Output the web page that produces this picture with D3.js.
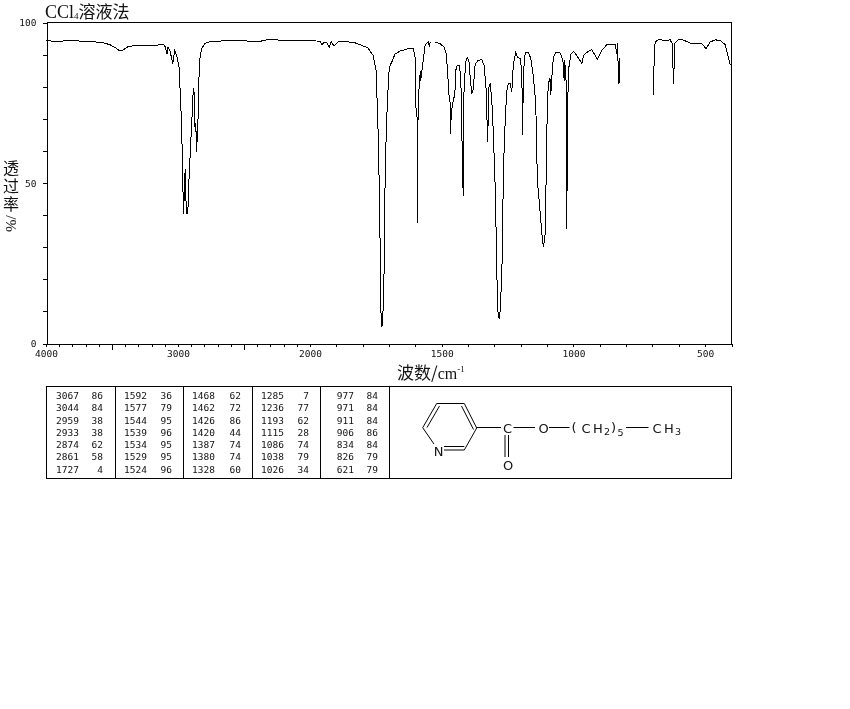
<!DOCTYPE html>
<html>
<head>
<meta charset="utf-8">
<script src="https://d3js.org/d3.v7.min.js"></script>
<style>
  body { margin: 0; background: #fff; }
  svg { display: block; }
  text { fill: #111; }
</style>
</head>
<body>
<div id="main"></div>
<script>
const ctx = {
    w: 850,
    h: 709,
    left: 46.5,
    right: 731.5,
    top: 22.5,
    bottom: 343.5
};

// spectrum. null = gap in the trace
const waveNumbers = [
    4000, 3932, 3894, 3780, 3705, 3591, 3515, 3477, 3439, 3409, 3379, 3326, 3174, 3114, 3098, 3083, 3076, 3061, 3040, 3025,
    3010, 2992, 2983, 2972, 2964, 2957, 2952, 2945, 2937, 2926, 2917, 2904, 2894, 2884, 2879, 2873, 2866, 2858, 2854, 2848,
    2841, 2833, 2820, 2795, 2773, 2705, 2530, 2394, 2303, 2205, 2076, 1962, 1954, 1947, 1937, 1927, 1919, 1909, 1893, 1837,
    1810, 1780, 1760, 1749, 1744, 1739, 1736, 1734, 1732, 1727, 1722, 1719, 1718, 1711, 1706, 1699, 1690, 1677, 1658, 1628,
    1608, 1601, 1598, 1592, 1591, 1590, 1586, 1581, 1580, 1575, 1570, 1563, 1551, 1547, 1544, null,
    1525, 1506, 1491, 1483, 1478, 1473, 1468, 1466, 1464, 1458, 1450, 1447, 1441, 1433, 1428, 1424, 1422, 1418, 1417, 1415,
    1409, 1403, 1397, 1392, 1386, 1380, 1373, 1361, 1348, 1339, 1332, 1328, 1325, 1324, 1321, 1316, 1310, 1304, 1297, 1295,
    1291, 1287, 1282, 1278, 1272, 1269, 1266, 1259, 1253, 1247, 1240, 1234, 1228, 1219, 1212, 1202, 1196, 1193, 1190, 1183,
    1171, 1162, 1152, 1143, 1137, 1130, 1120, 1114, 1107, 1104, 1099, 1095, 1089, 1086, 1082, 1076, 1067, 1051, 1040, 1035,
    1033, 1028, 1025, 1023, 1018, 1009, 1000, 987, 968, 962, 943, 930, 909, 892, 873, 842, 835, 833, 828, 825, 824, null,
    696, 695, 690, 677, 652, 633, 625, 620, 618, 617, 601, 588, 557, 512, 497, 481, 462, 443, 424, 415, 405
];
const transmittance = [
    94.4, 94.1, 94.2, 94.4, 94, 93.9, 93.1, 92.2, 91.1, 91.6, 92.5, 92.8, 92.8, 93.3, 92.5, 90.3, 92.3, 91.3, 87.2, 91.3,
    89.7, 86.1, 77.9, 67.3, 49.8, 40.2, 48.6, 54.5, 40.5, 40.5, 50.8, 62.3, 70.4, 79.4, 78.8, 67.3, 68.8, 59.8, 65.4, 70.1,
    82.9, 89.1, 91.9, 93.5, 93.9, 94.2, 94.4, 94, 94.8, 94.4, 94.4, 94.2, 93.1, 93.8, 93.8, 92.3, 94, 92.7, 94, 93.9,
    93.1, 92.1, 89.7, 85, 72.6, 59.2, 38.3, 32.1, 11.3, 5.1, 11.3, 21.8, 38.3, 64.3, 75.7, 86.1, 87.6, 90.2, 91.1, 91.8,
    91.8, 89.2, 73.6, 69.5, 37.4, 69.5, 79.8, 85, 81.9, 85, 88.2, 93.1, 93.9, 92.5, 93.9, null,
    93.9, 93.4, 92.3, 90.3, 85, 77.9, 74.8, 65.4, 71.7, 74.8, 77.9, 85, 86.6, 86.6, 83, 72.6, 53.9, 46.1, 72.6, 79.8,
    87.6, 89, 88.2, 83, 77.9, 79.4, 87.2, 88.2, 88.4, 86.6, 79.8, 69.5, 62.7, 69.5, 79.8, 81.1, 75.7, 65.4, 48.6, 41.4,
    22.7, 10.3, 7.8, 10.3, 21.2, 33.3, 53.9, 69.5, 78.8, 80.9, 81, 78.3, 87.2, 90.6, 89.2, 88.8, 85, 64.8, 84.1, 90.6,
    90.7, 88.8, 83, 74.8, 50.8, 44.5, 34.3, 30, 34.3, 49.8, 74.8, 81, 82.6, 77.3, 83, 89.2, 90.6, 90.6, 88.2, 81.9,
    88.2, 81.9, 35.8, 71.7, 85.7, 90.2, 91, 89.7, 87.2, 89.7, 91.1, 91.5, 88.5, 91.3, 93.1, 93.1, 90.3, 93.5, 81, 88.8, 81, null,
    77.3, 85, 93.9, 94.7, 94.4, 94.6, 93.4, 80.9, 86.1, 93.5, 94.7, 94.7, 93.6, 93.4, 91.8, 93.9, 94.6, 94.4, 93.1, 90.3, 86.8
];

const xLabels = [4000, 3000, 2000, 1500, 1000, 500];
const xLongTicks = [3500, 2500];
const yLabels = [100, 50, 0];

// peak table, one array per column
const peakWave = [
    [3067, 3044, 2959, 2933, 2874, 2861, 1727],
    [1592, 1577, 1544, 1539, 1534, 1529, 1524],
    [1468, 1462, 1426, 1420, 1387, 1380, 1328],
    [1285, 1236, 1193, 1115, 1086, 1038, 1026],
    [977, 971, 911, 906, 834, 826, 621]
];
const peakTrans = [
    [86, 84, 38, 38, 62, 58, 4],
    [36, 79, 95, 96, 95, 95, 96],
    [62, 72, 86, 44, 74, 74, 60],
    [7, 77, 62, 28, 74, 79, 34],
    [84, 84, 84, 86, 84, 79, 79]
];

//==============================================================================================
function drawSpectrum(rootG) {
    // x axis is not linear, the scale doubles below 2000
    const x = d3.scaleLinear().domain([4000, 2000, 400]).range([ctx.left - 0.5, 310, ctx.right]);
    const y = d3.scaleLinear().domain([0, 100]).range([ctx.bottom, ctx.top]);

    const xAxis = d3.axisBottom(x)
        .tickValues(d3.range(4000, 399, -100))
        .tickSize(3)
        .tickFormat(d => xLabels.includes(d) ? d : "");
    const yAxis = d3.axisLeft(y)
        .tickValues(d3.range(0, 101, 10))
        .tickSize(4)
        .tickPadding(6)
        .tickFormat(d => yLabels.includes(d) ? d : "");

    const gx = rootG.append("g").attr("transform", `translate(0,${ctx.bottom})`).call(xAxis);
    gx.selectAll(".tick line")
        .attr("y2", d => xLongTicks.includes(d) ? 6 : 3);
    gx.selectAll(".tick text").attr("y", 7);

    const gy = rootG.append("g").attr("transform", `translate(${ctx.left},0)`).call(yAxis);

    [gx, gy].forEach(g => {
        g.attr("font-family", "'DejaVu Sans Mono'").attr("font-size", 9.5);
        g.selectAll("line,path").attr("stroke", "#000").attr("shape-rendering", "crispEdges");
    });

    // top and right edges of the frame
    rootG.append("path")
        .attr("d", `M${ctx.left},${ctx.top}H${ctx.right}V${ctx.bottom}`)
        .attr("fill", "none")
        .attr("stroke", "#000")
        .attr("shape-rendering", "crispEdges");

    const line = d3.line()
        .defined(d => d[0] !== null)
        .x(d => x(d[0]))
        .y(d => y(d[1]));

    rootG.append("path")
        .datum(d3.zip(waveNumbers, transmittance))
        .attr("d", line)
        .attr("fill", "none")
        .attr("stroke", "#000")
        .attr("stroke-width", 1)
        .attr("shape-rendering", "crispEdges");
}

//==============================================================================================
function drawLabels(rootG) {
    const title = rootG.append("text").attr("x", 45).attr("y", 18);
    title.append("tspan").attr("font-family", "'Liberation Serif'").attr("font-size", 18).text("CCl");
    title.append("tspan").attr("font-family", "'Liberation Serif'").attr("font-size", 9).attr("dy", 1).text("4");
    title.append("tspan").attr("font-family", "'Noto Sans CJK SC'").attr("font-size", 17).attr("dy", -1).text("溶液法");

    const chars = ["透", "过", "率"];
    rootG.selectAll(".ylab")
        .data(chars)
        .enter().append("text")
        .attr("x", 11)
        .attr("y", (d, i) => 174 + i * 18)
        .attr("text-anchor", "middle")
        .attr("font-family", "'Noto Sans CJK SC'")
        .attr("font-size", 16)
        .text(d => d);
    rootG.append("text")
        .attr("transform", "translate(16,232) rotate(-90)")
        .attr("font-family", "'Liberation Serif'")
        .attr("font-size", 15)
        .text("%/");

    const xTitle = rootG.append("text").attr("x", 397).attr("y", 379);
    xTitle.append("tspan").attr("font-family", "'Noto Sans CJK SC'").attr("font-size", 17).text("波数/");
    xTitle.append("tspan").attr("font-family", "'Liberation Serif'").attr("font-size", 16).text("cm");
    xTitle.append("tspan").attr("font-family", "'Liberation Serif'").attr("font-size", 9).attr("dy", -7).text("-1");
}

//==============================================================================================
function drawTable(rootG) {
    const tableTop = 386.5, tableBottom = 478.5;
    const dividers = [115.5, 183.5, 252.5, 320.5, 389.5];
    const waveRight = [79, 147, 215, 284, 354];
    const transRight = [103, 172, 241, 309, 378];
    const rowY = d3.scaleLinear().domain([0, 6]).range([399, 472.5]);

    rootG.append("rect")
        .attr("x", ctx.left)
        .attr("y", tableTop)
        .attr("width", ctx.right - ctx.left)
        .attr("height", tableBottom - tableTop)
        .attr("fill", "none")
        .attr("stroke", "#000")
        .attr("shape-rendering", "crispEdges");

    rootG.selectAll(".divider")
        .data(dividers)
        .enter().append("line")
        .attr("x1", d => d)
        .attr("x2", d => d)
        .attr("y1", tableTop)
        .attr("y2", tableBottom)
        .attr("stroke", "#000")
        .attr("shape-rendering", "crispEdges");

    peakWave.forEach((col, c) => {
        col.forEach((wn, r) => {
            [[wn, waveRight[c]], [peakTrans[c][r], transRight[c]]].forEach(p => {
                rootG.append("text")
                    .attr("x", p[1])
                    .attr("y", rowY(r))
                    .attr("text-anchor", "end")
                    .attr("font-family", "'DejaVu Sans Mono'")
                    .attr("font-size", 9.5)
                    .text(p[0]);
            });
        });
    });
}

//==============================================================================================
function drawMolecule(rootG) {
    const bonds = [
        "M436.7,403.5H464.3", "M436.7,403.5L422.7,427.7", "M439.5,406L427,427.5",
        "M464.3,403.5L476.7,428", "M461.5,406L473.5,429.5",
        "M476.7,428L464.3,450", "M464.3,450H444", "M464.3,446.5H444",
        "M422.7,427.7L434,444",
        "M476.7,427.5H501", "M513.5,427.5H535", "M549,427.5H569.5",
        "M626,427.5H648.5",
        "M505,435V457", "M508.5,435V457"
    ];
    rootG.append("path")
        .attr("d", bonds.join(""))
        .attr("fill", "none")
        .attr("stroke", "#000");

    const atoms = [
        ["N", 438.5, 455.5], ["C", 507.5, 432.5], ["O", 543.5, 432.5], ["O", 508, 469.5],
        ["(", 574, 432], ["C", 586, 432.5], ["H", 598, 432.5], ["2", 607, 435], [")", 613.5, 432], ["5", 620.5, 435.5],
        ["C", 657, 432.5], ["H", 669, 432.5], ["3", 678, 435]
    ];
    rootG.selectAll(".atom")
        .data(atoms)
        .enter().append("text")
        .attr("x", d => d[1])
        .attr("y", d => d[2])
        .attr("text-anchor", "middle")
        .attr("font-family", "'DejaVu Sans'")
        .attr("font-size", d => /\d/.test(d[0]) ? 9.5 : 13)
        .text(d => d[0]);
}

function createViz() {
    const svgEl = d3.select("#main").append("svg");
    svgEl.attr("width", ctx.w);
    svgEl.attr("height", ctx.h);
    // slightly under 1 so the text gets plain grey antialiasing
    const rootG = svgEl.append("g").attr("id", "rootG").attr("opacity", 0.999);
    drawSpectrum(rootG);
    drawLabels(rootG);
    drawTable(rootG);
    drawMolecule(rootG);
}

createViz();
</script>
</body>
</html>
